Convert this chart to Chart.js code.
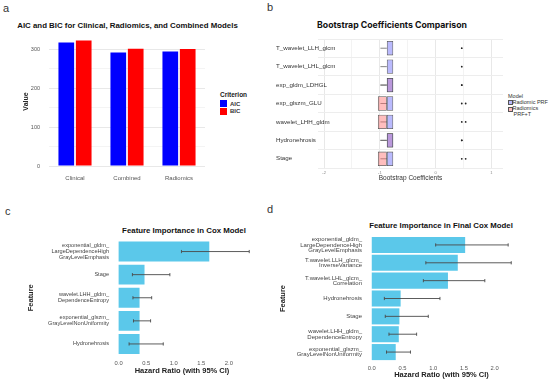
<!DOCTYPE html>
<html>
<head>
<meta charset="utf-8">
<script src="https://cdn.jsdelivr.net/npm/chart.js@4.4.1/dist/chart.umd.min.js"></script>
<style>
  body { margin: 0; background: #fff; width: 550px; height: 382px; position: relative; overflow: hidden;
         font-family: "Liberation Sans", Arial, sans-serif; }
  canvas { position: absolute; }
  .lab { position: absolute; font-size: 11px; color: #333; line-height: 1; }
  .ttl { position: absolute; font-weight: bold; white-space: nowrap; color: #111; line-height: 1; }
  .lg { position: absolute; font-size: 6px; color: #333; line-height: 1; white-space: nowrap; }
  .sw { position: absolute; }
</style>
</head>
<body>
<div class="lab" style="left:3px;top:3px;">a</div>
<div class="lab" style="left:267px;top:2px;">b</div>
<div class="lab" style="left:5px;top:206px;">c</div>
<div class="lab" style="left:267px;top:204px;">d</div>

<div class="ttl" data-cx="127.5" data-cy="26" data-w="221">AIC and BIC for Clinical, Radiomics, and Combined Models</div>
<div class="ttl" data-cx="392" data-cy="25" data-w="150" style="font-family:Inter, Roboto, sans-serif;">Bootstrap Coefficients Comparison</div>
<div class="ttl" data-cx="184" data-cy="231" data-w="124">Feature Importance in Cox Model</div>
<div class="ttl" data-cx="441" data-cy="226" data-w="144">Feature Importance in Final Cox Model</div>

<!-- legend a -->
<div class="lg" style="left:220px;top:92px;font-weight:bold;font-size:6.5px;color:#222;">Criterion</div>
<div class="sw" style="left:220px;top:100px;width:7px;height:7px;background:#0000FF;"></div>
<div class="sw" style="left:220px;top:107.5px;width:7px;height:7px;background:#FF0000;"></div>
<div class="lg" style="left:230px;top:100.5px;font-weight:bold;">AIC</div>
<div class="lg" style="left:230px;top:108px;font-weight:bold;">BIC</div>

<!-- legend b -->
<div class="lg" style="left:508px;top:93.9px;font-size:5.5px;">Model</div>
<div class="sw" style="left:508px;top:100px;width:2.8px;height:3.4px;background:#b9b9fb;border:0.5px solid #555;"></div>
<div class="sw" style="left:508px;top:106.7px;width:2.8px;height:3.4px;background:#ffbcbc;border:0.5px solid #555;"></div>
<div class="lg" style="left:512.5px;top:99.5px;font-size:5.5px;">Radiomic PRF</div>
<div class="lg" style="left:512.5px;top:106.2px;font-size:5.5px;">Radiomics</div>
<div class="lg" style="left:513.5px;top:112.2px;font-size:5.5px;">PRF+T</div>

<canvas id="ca" width="275" height="190" style="left:0;top:0;"></canvas>
<canvas id="cb" width="275" height="190" style="left:275px;top:0;"></canvas>
<canvas id="cc" width="275" height="192" style="left:0;top:190px;"></canvas>
<canvas id="cd" width="275" height="192" style="left:275px;top:190px;"></canvas>

<script>
// panel a
const modelsA = ["Clinical", "Combined", "Radiomics"];
const aicVals = [318, 292, 295];
const bicVals = [323, 301.5, 301];

// panel b (box edges, lower whisker, outliers)
const featB = ["T_wavelet_LLH_glcm", "T_wavelet_LHL_glcm", "exp_gldm_LDHGL", "exp_glszm_GLU",
               "wavelet_LHH_gldm", "Hydronehrosis", "Stage"];
const prfLo = [-0.99, -0.99, -0.99, -0.99, -0.99, -0.99, -0.99];
const prfQ1 = [-0.875, -0.875, -0.875, -0.875, -0.875, -0.875, -0.875];
const prfQ3 = [-0.76, -0.76, -0.76, -0.76, -0.76, -0.76, -0.76];
const prfOut = [0.47, 0.47, 0.47, 0.54, 0.54, 0.47, 0.54];
const prftLo = [null, null, -0.99, -1.035, -1.035, -0.99, -1.035];
const prftQ1 = [null, null, -0.875, -1.035, -1.035, -0.875, -1.035];
const prftQ3 = [null, null, -0.76, -0.875, -0.875, -0.76, -0.875];
const prftOut = [null, null, 0.47, 0.47, 0.47, 0.47, 0.47];
const ticksB = [-2, -1, 0, 1];

// panel c
const featC = [["exponential_gldm_", "LargeDependenceHigh", "GrayLevelEmphasis"], "Stage",
               ["wavelet.LHH_gldm_", "DependenceEntropy"], ["exponential_glszm_", "GrayLevelNonUniformity"],
               "Hydronehrosis"];
const hrC = [1.645, 0.47, 0.38, 0.38, 0.38];
const loC = [1.14, 0.25, 0.26, 0.27, 0.19];
const hiC = [2.37, 0.93, 0.60, 0.58, 0.81];

// panel d
const featD = [["exponential_gldm_", "LargeDependenceHigh", "GrayLevelEmphasis"],
               ["T.wavelet.LLH_glcm_", "InverseVariance"], ["T.wavelet.LHL_glcm_", "Correlation"],
               "Hydronehrosis", "Stage", ["wavelet.LHH_gldm_", "DependenceEntropy"],
               ["exponential_glszm_", "GrayLevelNonUniformity"]];
const hrD = [1.52, 1.40, 1.24, 0.47, 0.45, 0.44, 0.39];
const loD = [1.04, 0.88, 0.84, 0.205, 0.22, 0.28, 0.24];
const hiD = [2.22, 2.27, 1.84, 1.11, 0.92, 0.73, 0.63];
const hrTicks = [0, 0.5, 1, 1.5, 2];

// fit titles to their width
document.querySelectorAll(".ttl").forEach(el => {
  el.style.fontSize = "10px";
  const w = el.getBoundingClientRect().width;
  const fs = 10 * (+el.dataset.w) / w;
  el.style.fontSize = fs + "px";
  const r = el.getBoundingClientRect();
  el.style.left = (+el.dataset.cx - r.width / 2) + "px";
  el.style.top = (+el.dataset.cy - r.height / 2) + "px";
});

Chart.defaults.font.family = '"Liberation Sans", Arial, sans-serif';
Chart.defaults.animation = false;
Chart.defaults.plugins.legend.display = false;
Chart.defaults.plugins.tooltip.enabled = false;

// A
new Chart(document.getElementById("ca"), {
  type: "bar",
  data: {
    labels: modelsA,
    datasets: [
      { label: "AIC", data: aicVals, backgroundColor: "#0000FF" },
      { label: "BIC", data: bicVals, backgroundColor: "#FF0000" },
    ],
  },
  options: {
    responsive: false,
    layout: { padding: { left: 22, top: 37, right: 70, bottom: 0 } },
    datasets: { bar: { categoryPercentage: 0.67, barPercentage: 0.9 } },
    scales: {
      x: {
        grid: { display: false, drawTicks: false }, border: { display: false },
        ticks: { font: { size: 6 }, color: "#555", padding: 9 },
        afterFit: s => { s.height = 24; },
      },
      y: {
        min: 0, max: 332,
        grid: { color: c => (c.tick.value % 100 === 0 ? "#e8e8e8" : "#f4f4f4"), drawTicks: false },
        border: { display: false },
        ticks: { stepSize: 50, includeBounds: false, autoSkip: false, callback: v => (v % 100 === 0 ? String(v) : ""),
                 font: { size: 5.5 }, color: "#555", padding: 9 },
        title: { display: true, text: "Value", font: { size: 7, weight: "bold" }, color: "#222", padding: 0 },
        afterFit: s => { s.width = 27; },
      },
    },
  },
});

// B
const whiskers = {
  id: "whiskers",
  beforeDatasetsDraw(chart) {
    const { ctx, scales: { x, y } } = chart;
    ctx.save();
    ctx.strokeStyle = "#666";
    ctx.lineWidth = 0.8;
    featB.forEach((f, i) => {
      const yy = y.getPixelForValue(i);
      [[prfLo, prfQ1], [prftLo, prftQ1]].forEach(([lo, q]) => {
        if (lo[i] == null || lo[i] === q[i]) return;
        ctx.beginPath();
        ctx.moveTo(x.getPixelForValue(lo[i]), yy);
        ctx.lineTo(x.getPixelForValue(q[i]), yy);
        ctx.stroke();
      });
    });
    ctx.restore();
  },
  // y labels run past the axis box in the original, so draw them here unclipped
  afterDraw(chart) {
    const { ctx, scales: { y } } = chart;
    ctx.save();
    ctx.font = '6.2px "Liberation Sans", Arial, sans-serif';
    ctx.fillStyle = "#333";
    ctx.textAlign = "left";
    ctx.textBaseline = "middle";
    featB.forEach((f, i) => ctx.fillText(f, 1, y.getPixelForValue(i)));
    ctx.restore();
  },
};

const outPts = [];
featB.forEach((f, i) => {
  outPts.push({ x: prfOut[i], y: f });
  if (prftOut[i] != null) outPts.push({ x: prftOut[i], y: f });
});

new Chart(document.getElementById("cb"), {
  type: "bar",
  data: {
    labels: featB,
    datasets: [
      { label: "Radiomic PRF", data: featB.map((f, i) => [prfQ1[i], prfQ3[i]]),
        backgroundColor: "rgba(110,110,250,0.48)", borderColor: "#555", borderWidth: 0.8,
        borderSkipped: false, grouped: false, categoryPercentage: 1, barPercentage: 0.78 },
      { label: "Radiomics PRF+T", data: featB.map((f, i) => (prftQ1[i] == null ? null : [prftQ1[i], prftQ3[i]])),
        backgroundColor: "rgba(255,110,110,0.45)", borderColor: "#555", borderWidth: 0.8,
        borderSkipped: false, grouped: false, categoryPercentage: 1, barPercentage: 0.78 },
      { type: "scatter", label: "outliers", data: outPts, pointRadius: 0.9,
        backgroundColor: "#222", borderWidth: 0 },
    ],
  },
  options: {
    responsive: false,
    indexAxis: "y",
    layout: { padding: { left: 1, top: 39, right: 47, bottom: 8 } },
    scales: {
      x: {
        min: -2.11, max: 1.21,
        grid: { color: c => (ticksB.includes(c.tick.value) ? "#e8e8e8" : "#f3f3f3"), drawTicks: false },
        border: { display: false },
        ticks: { stepSize: 0.5, includeBounds: false, autoSkip: false, maxRotation: 0,
                 callback: v => (ticksB.includes(v) ? String(v) : ""),
                 font: { size: 4 }, color: "#888", padding: 2 },
        title: { display: true, text: "Bootstrap Coefficients", font: { size: 6.5 }, color: "#333", padding: 0 },
        afterFit: s => { s.height = 14; },
      },
      y: {
        grid: { color: "#ededed", drawTicks: false }, border: { display: false },
        ticks: { display: false },
        afterFit: s => { s.width = 42; },
      },
    },
  },
  plugins: [whiskers],
});

// C, D
function errBars(lo, hi) {
  return {
    id: "errbars",
    afterDatasetsDraw(chart) {
      const { ctx, scales: { x, y } } = chart;
      ctx.save();
      ctx.strokeStyle = "#4a4a4a";
      ctx.lineWidth = 0.9;
      lo.forEach((l, i) => {
        const yy = y.getPixelForValue(i);
        const x1 = x.getPixelForValue(l), x2 = x.getPixelForValue(hi[i]);
        ctx.beginPath();
        ctx.moveTo(x1, yy); ctx.lineTo(x2, yy);
        ctx.moveTo(x1, yy - 1.6); ctx.lineTo(x1, yy + 1.6);
        ctx.moveTo(x2, yy - 1.6); ctx.lineTo(x2, yy + 1.6);
        ctx.stroke();
      });
      ctx.restore();
    },
  };
}

function hrChart(id, labels, vals, lo, hi, cfg) {
  return new Chart(document.getElementById(id), {
    type: "bar",
    data: {
      labels: labels,
      datasets: [{ data: vals, backgroundColor: "#5BC8EA", categoryPercentage: 1, barPercentage: cfg.bar }],
    },
    options: {
      responsive: false,
      indexAxis: "y",
      layout: { padding: cfg.pad },
      scales: {
        x: {
          min: cfg.min, max: cfg.max,
          grid: { display: false, drawTicks: false }, border: { display: false },
          ticks: { stepSize: 0.5, includeBounds: false, autoSkip: false, maxRotation: 0,
                   callback: v => (hrTicks.includes(v) ? v.toFixed(1) : ""),
                   font: { size: 5.8 }, color: "#555", padding: cfg.tickPad },
          title: { display: true, text: "Hazard Ratio (with 95% CI)", font: { size: 7.5, weight: "bold" },
                   color: "#222", padding: 0 },
          afterFit: s => { s.height = cfg.xh; },
        },
        y: {
          grid: { display: false, drawTicks: false }, border: { display: false },
          ticks: { autoSkip: false, font: { size: cfg.lf, lineHeight: cfg.lh }, color: "#444", padding: 3 },
          title: { display: true, text: "Feature", font: { size: 7.5, weight: "bold" }, color: "#222", padding: 0 },
          afterFit: s => { s.width = cfg.yw; },
        },
      },
    },
    plugins: [errBars(lo, hi)],
  });
}

hrChart("cc", featC, hrC, loC, hiC, {
  bar: 0.86, min: -0.12, max: 2.42, pad: { left: 26, top: 50, right: 23, bottom: 6.5 },
  xh: 20, yw: 86, tickPad: 4.5, lf: 5.6, lh: 1.05,
});
hrChart("cd", featD, hrD, loD, hiD, {
  bar: 0.9, min: -0.11, max: 2.38, pad: { left: 3, top: 46, right: 32, bottom: 3 },
  xh: 18, yw: 87, tickPad: 3.5, lf: 6, lh: 0.9,
});
</script>
</body>
</html>
